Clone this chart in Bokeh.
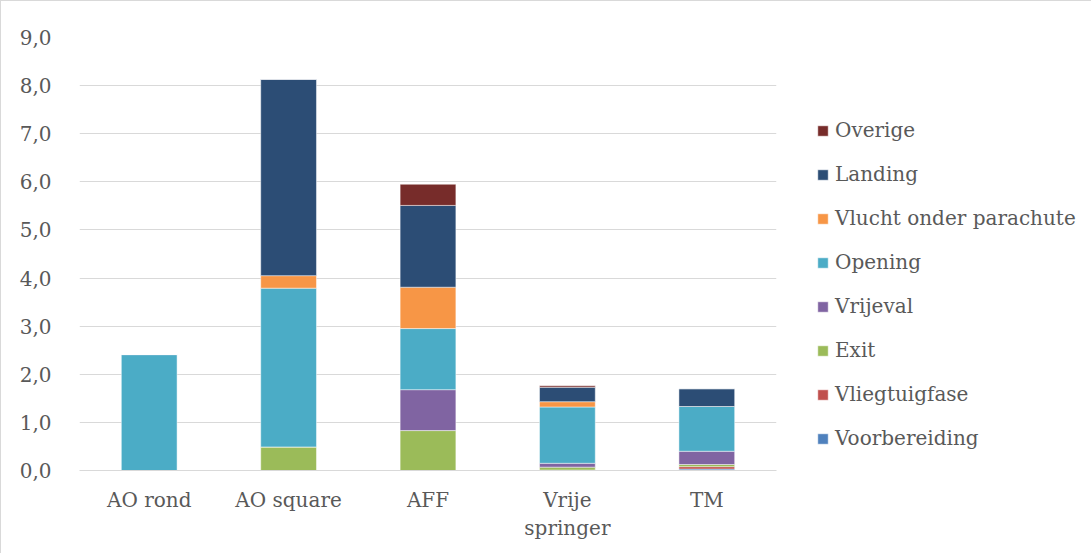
from bokeh.plotting import figure
from bokeh.models import Legend, LegendItem, FactorRange
from bokeh.embed import file_html
from bokeh.resources import INLINE

categories = ["AO rond", "AO square", "AFF", "Vrije\nspringer", "TM"]
phases = ["Voorbereiding", "Vliegtuigfase", "Exit", "Vrijeval", "Opening",
          "Vlucht onder parachute", "Landing", "Overige"]
colors = ["#4F81BD", "#C0504D", "#9BBB59", "#8064A2", "#4BACC6",
          "#F79646", "#2C4D75", "#772C2A"]

voorbereiding = [0.0, 0.0, 0.0, 0.01, 0.03]
vliegtuigfase = [0.0, 0.0, 0.0, 0.0, 0.05]
exit_ = [0.0, 0.49, 0.83, 0.06, 0.045]
vrijeval = [0.0, 0.0, 0.85, 0.08, 0.275]
opening = [2.41, 3.30, 1.27, 1.17, 0.93]
vlucht = [0.0, 0.26, 0.86, 0.11, 0.0]
landing = [0.0, 4.08, 1.70, 0.30, 0.37]
overige = [0.0, 0.0, 0.44, 0.03, 0.0]

y_ticks = [0, 1, 2, 3, 4, 5, 6, 7, 8, 9]

data = {"cat": categories, "Voorbereiding": voorbereiding, "Vliegtuigfase": vliegtuigfase,
        "Exit": exit_, "Vrijeval": vrijeval, "Opening": opening,
        "Vlucht onder parachute": vlucht, "Landing": landing, "Overige": overige}

FONT = "DejaVu Serif"
TXT = "#595959"
GRID = "#d9d9d9"

p = figure(x_range=FactorRange(*categories), y_range=(0, 9),
           frame_width=697, frame_height=433, output_backend="svg", toolbar_location=None,
           min_border_left=78, min_border_right=316, min_border_top=36, min_border_bottom=84)
p.outline_line_color = None
p.styles = {"border-left": "1px solid #d9d9d9", "border-top": "1px solid #d9d9d9",
            "box-sizing": "border-box"}

rs = p.vbar_stack(phases, x="cat", width=0.4, source=data, color=colors,
                  line_color="white", line_width=0.8, line_alpha=0.6)

items = [LegendItem(label=ph, renderers=[r]) for ph, r in zip(phases, rs)][::-1]
legend = Legend(items=items, location=(40, 20), orientation="vertical",
                glyph_width=13, glyph_height=13, label_height=20, spacing=20,
                label_standoff=6, padding=0, margin=0,
                label_text_font=FONT, label_text_font_size="20px",
                label_text_color=TXT, border_line_color=None,
                background_fill_alpha=0)
p.add_layout(legend, "right")

p.ygrid.grid_line_color = GRID
p.ygrid.grid_line_width = 1.2
p.xgrid.grid_line_color = None
p.yaxis.ticker = y_ticks
p.yaxis.major_label_overrides = {t: f"{t},0" for t in y_ticks}
p.yaxis.axis_line_color = None
p.yaxis.major_tick_line_color = None
p.yaxis.minor_tick_line_color = None
p.yaxis.major_label_standoff = 22
p.xaxis.axis_line_color = GRID
p.xaxis.axis_line_width = 1.2
p.xaxis.major_tick_line_color = None
p.xaxis.minor_tick_line_color = None
p.xaxis.major_label_standoff = 11
for ax in (p.xaxis, p.yaxis):
    ax.major_label_text_font = FONT
    ax.major_label_text_font_size = "20px"
    ax.major_label_text_color = TXT

open("out.html", "w").write(file_html(p, INLINE))
